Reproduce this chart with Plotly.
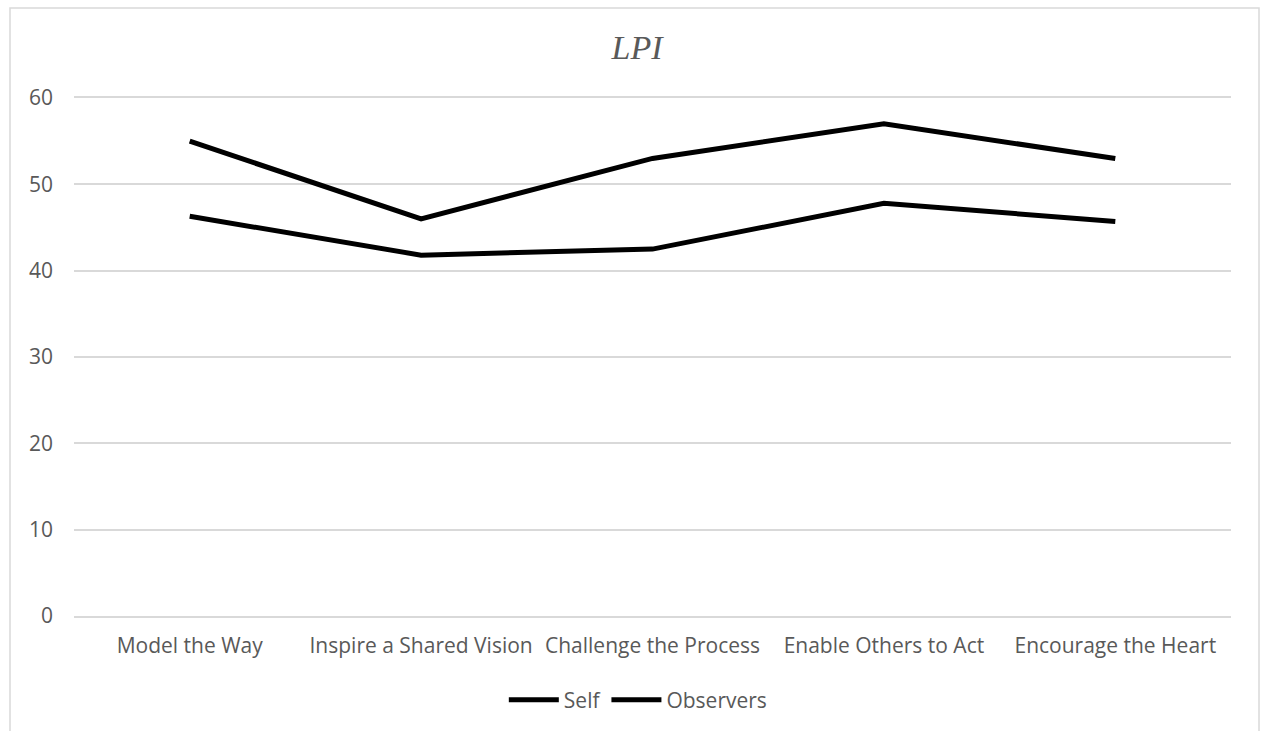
import plotly.graph_objects as go

# LPI scores per leadership practice
categories = [
    "Model the Way",
    "Inspire a Shared Vision",
    "Challenge the Process",
    "Enable Others to Act",
    "Encourage the Heart",
]
self_scores = [55, 46, 53, 57, 53]
observer_scores = [46.3, 41.8, 42.5, 47.8, 45.7]
y_ticks = [0, 10, 20, 30, 40, 50, 60]

W, H = 1264, 731
PLOT_L, PLOT_R = 74, 1231
PLOT_T, PLOT_B = 98, 616

TEXT_COLOR = "#595959"
GRID_COLOR = "#d9d9d9"
FONT = "Open Sans"

fig = go.Figure()
fig.add_trace(go.Scatter(
    x=categories, y=self_scores, name="Self", mode="lines",
    line=dict(color="#000000", width=5),
))
fig.add_trace(go.Scatter(
    x=categories, y=observer_scores, name="Observers", mode="lines",
    line=dict(color="#000000", width=5),
))

plot_w = PLOT_R - PLOT_L
plot_h = PLOT_B - PLOT_T

# light outer frame around the whole chart
fig.add_shape(
    type="rect", xref="paper", yref="paper",
    x0=(10 - PLOT_L) / plot_w, x1=(1259 - PLOT_L) / plot_w,
    y0=(PLOT_B - 760) / plot_h, y1=(PLOT_B - 8) / plot_h,
    line=dict(color=GRID_COLOR, width=1.5), fillcolor="rgba(0,0,0,0)",
    layer="below",
)

fig.update_layout(
    width=W, height=H,
    margin=dict(l=PLOT_L, r=W - PLOT_R, t=PLOT_T, b=H - PLOT_B, pad=0),
    paper_bgcolor="white", plot_bgcolor="white",
    title=dict(
        text="<i>LPI</i>", xref="container", yref="container",
        x=637 / W, y=1 - 47 / H, xanchor="center", yanchor="middle",
        font=dict(family="Liberation Serif", size=34, color=TEXT_COLOR),
    ),
    font=dict(family=FONT, size=21, color=TEXT_COLOR),
    xaxis=dict(
        type="category", range=[-0.5, len(categories) - 0.5],
        showgrid=False, zeroline=False,
        # bottom (0) and top (60) gridlines drawn as the axis line + mirror
        showline=True, mirror=True, linecolor=GRID_COLOR, linewidth=1.5,
        ticks="", ticklabelstandoff=10,
        tickfont=dict(family=FONT, size=21, color=TEXT_COLOR),
    ),
    yaxis=dict(
        range=[0, 60], tickvals=y_ticks, showgrid=True,
        gridcolor=GRID_COLOR, gridwidth=1.5, zeroline=False, showline=False,
        ticks="", ticklabelstandoff=20,
        tickfont=dict(family=FONT, size=21, color=TEXT_COLOR),
    ),
    legend=dict(
        orientation="h", xref="container", yref="container",
        x=0.505, y=1 - 700 / H, xanchor="center", yanchor="middle",
        font=dict(family=FONT, size=21, color=TEXT_COLOR),
        itemwidth=50, tracegroupgap=0, bgcolor="rgba(0,0,0,0)",
    ),
    showlegend=True,
    hovermode=False,
)

fig.write_html("out.html")
